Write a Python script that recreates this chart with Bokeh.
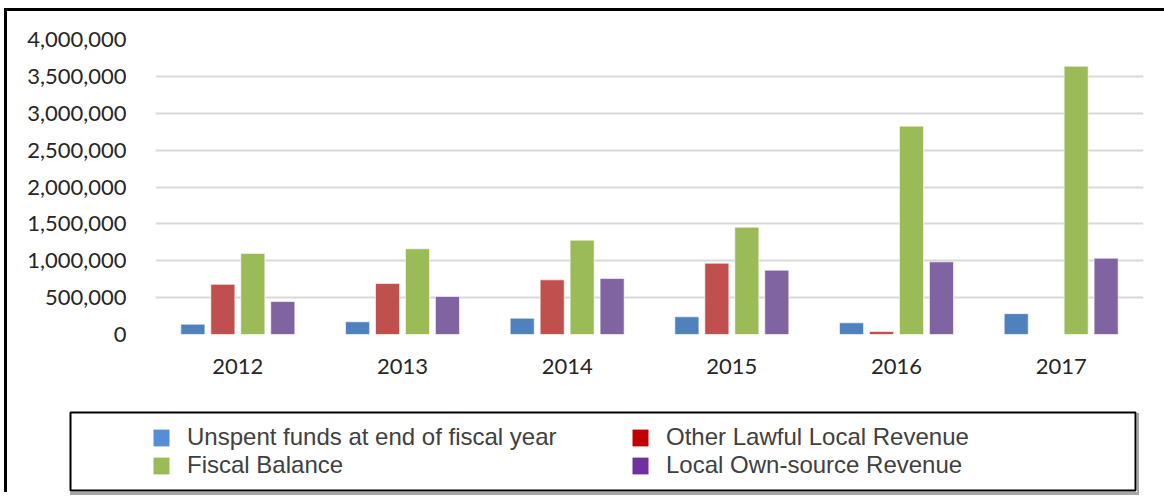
from bokeh.plotting import figure
from bokeh.layouts import column
from bokeh.models import (ColumnDataSource, FactorRange, Range1d, FixedTicker,
                          NumeralTickFormatter, Legend, LegendItem)
from bokeh.transform import dodge
from bokeh.embed import file_html
from bokeh.resources import INLINE

# ---- data ----
years = ["2012", "2013", "2014", "2015", "2016", "2017"]
unspent = [140000, 172000, 221000, 240000, 158000, 283000]
other_lawful = [680000, 691000, 741000, 967000, 41000, 0]
fiscal_balance = [1100000, 1162000, 1279000, 1455000, 2825000, 3638000]
local_own = [447000, 515000, 759000, 872000, 985000, 1035000]

series_keys = ["unspent", "other", "fiscal", "local"]
series_names = ["Unspent funds at end of fiscal year", "Other Lawful Local Revenue",
                "Fiscal Balance", "Local Own-source Revenue"]
bar_colors = ["#4F81BD", "#C0504D", "#9BBB59", "#8064A2"]
legend_colors = ["#558ED5", "#C00000", "#9BBB59", "#7030A0"]
y_ticks = [0, 500000, 1000000, 1500000, 2000000, 2500000, 3000000, 3500000, 4000000]

source = ColumnDataSource(data=dict(year=years, unspent=unspent, other=other_lawful,
                                    fiscal=fiscal_balance, local=local_own))

# ---- main chart ----
p = figure(x_range=FactorRange(factors=years, range_padding=0),
           y_range=Range1d(0, 4000000),
           width=1157, height=394, output_backend="svg", toolbar_location=None,
           min_border_left=148, min_border_right=21, min_border_top=28, min_border_bottom=71)
p.outline_line_color = None
p.frame_align = False

bar_w = 0.146
offsets = [-0.273, -0.091, 0.091, 0.273]
for key, col, off in zip(series_keys, bar_colors, offsets):
    p.vbar(x=dodge("year", off, range=p.x_range), top=key, width=bar_w, source=source,
           fill_color=col, line_color="white", line_alpha=0.6, line_width=1)

p.xgrid.grid_line_color = None
p.ygrid.grid_line_color = "#D9D9D9"
p.ygrid.grid_line_width = 2
p.yaxis.ticker = FixedTicker(ticks=y_ticks)
p.yaxis.formatter = NumeralTickFormatter(format="0,0")
p.axis.axis_line_color = None
p.axis.major_tick_line_color = None
p.axis.minor_tick_line_color = None
p.axis.major_label_text_font = "Lato"
p.axis.major_label_text_font_size = "22px"
p.axis.major_label_text_color = "#262626"
p.yaxis.major_label_standoff = 23
p.xaxis.major_label_standoff = 18

# ---- legend panel ----
lf = figure(width=1069, height=82, output_backend="svg", toolbar_location=None,
            x_range=FactorRange(factors=years), y_range=Range1d(0, 1),
            x_axis_location=None, y_axis_location=None,
            min_border_left=2, min_border_right=2, min_border_top=2, min_border_bottom=2)
lf.frame_align = False
lf.grid.grid_line_color = None
lf.outline_line_color = "black"
lf.outline_line_width = 2
lf.outline_line_alpha = 1
lf.margin = (5, 0, 0, 61)
lf.styles = {"box-shadow": "2px 3px 0px #A6A6A6"}

# legend swatches: zero-height bars (invisible in the panel, drawn in the legend)
leg_r = [lf.vbar(x="year", top=0, bottom=0, width=0.1, source=source,
                 fill_color=c, line_color=None)
         for c in legend_colors]

common = dict(border_line_color=None, background_fill_alpha=0, padding=0, margin=0,
              spacing=0, glyph_width=20, glyph_height=21, label_standoff=16,
              label_text_font="Liberation Sans", label_text_font_size="24px",
              label_text_color="#404040", label_height=20)
leg1 = Legend(items=[LegendItem(label=series_names[0], renderers=[leg_r[0]]),
                     LegendItem(label=series_names[2], renderers=[leg_r[2]])],
              location=(81, 11), **common)
leg2 = Legend(items=[LegendItem(label=series_names[1], renderers=[leg_r[1]]),
                     LegendItem(label=series_names[3], renderers=[leg_r[3]])],
              location=(560, 11), **common)
lf.add_layout(leg1, "center")
lf.add_layout(leg2, "center")

layout = column(p, lf, spacing=0)
layout.margin = (8, 0, 0, 4)
layout.styles = {"border-top": "3px solid black", "border-left": "3px solid black"}

open("out.html", "w").write(file_html(layout, INLINE))
